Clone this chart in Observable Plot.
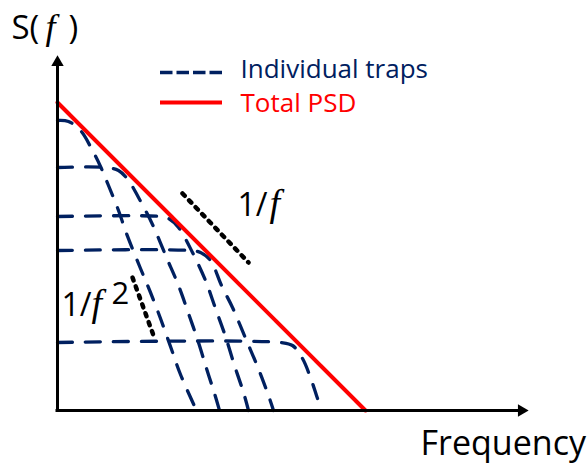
<!DOCTYPE html>
<html><head><meta charset="utf-8">
<script src="https://cdn.jsdelivr.net/npm/d3@7"></script>
<script src="https://cdn.jsdelivr.net/npm/@observablehq/plot@0.6"></script>
<style>body{margin:0;background:#fff} svg{display:block}</style>
</head><body><div id="chart"></div>
<script>
// Schematic units: x = log frequency (arb.), y = log S(f) (arb.)
const trap1 = [[0,290],[11,289],[23,280],[35,260],[43,244],[51,225],[61,200],[69,177],[83,142],[93,118],[103,92],[113,64],[123,36],[139,0]];
const trap2 = [[0,243],[48,243],[61,240],[71,230],[81,213],[95,186],[109,153],[121,125],[131,97],[141,68],[149,42],[157,17],[162,0]];
const trap3 = [[0,194],[103,194],[111,192],[121,183],[135,158],[148,130],[158,102],[168,74],[177,45],[186,18],[191,0]];
const trap4 = [[0,160],[133,160],[143,158],[153,150],[164,125],[175,103],[189,70],[200,44],[211,15],[216,0]];
const trap5 = [[0,68],[223,68],[235,65],[245,52],[254,30],[259,15],[264,0]];
const totalPSD = [[0,308],[308,0]];
const slopeOneOverF = [[125,217],[191,148]];
const slopeOneOverF2 = [[75,133],[96,75]];
const legendLabels = ["Individual traps", "Total PSD"];

const NAVY = "#002060", RED = "#ff0000";
const traps = [trap1, trap2, trap3, trap4, trap5];
const trapRows = traps.flatMap((t, i) => t.map(([x, y]) => ({trap: i + 1, x, y})));
const toRows = a => a.map(([x, y]) => ({x, y}));

const sans = "'Open Sans', sans-serif";
const serif = "'Liberation Serif', serif";
const txt = (s, x, y, o = {}) => Plot.text([s], {x: () => x, y: () => y, text: d => d, textAnchor: "start", lineAnchor: "bottom", fontFamily: sans, fontSize: 32, fill: "black", ...o});

const chart = Plot.plot({
  width: 587, height: 465,
  marginLeft: 57, marginRight: 59, marginTop: 55, marginBottom: 55,
  x: {domain: [0, 471], axis: null},
  y: {domain: [0, 355], axis: null},
  marks: [
    Plot.line(trapRows, {x: "x", y: "y", z: "trap", stroke: NAVY, strokeWidth: 3.3, strokeDasharray: "15,13", curve: "catmull-rom"}),
    Plot.line(toRows(totalPSD), {x: "x", y: "y", stroke: RED, strokeWidth: 4}),
    Plot.line(toRows(slopeOneOverF), {x: "x", y: "y", stroke: "black", strokeWidth: 4.5, strokeDasharray: "3.2,6.3"}),
    Plot.line(toRows(slopeOneOverF2), {x: "x", y: "y", stroke: "black", strokeWidth: 4.5, strokeDasharray: "3.2,6.3"}),
    // axes with arrowheads
    Plot.ruleX([0], {y1: -1.5, y2: 346, stroke: "black", strokeWidth: 3}),
    Plot.ruleY([0], {x1: -1.5, x2: 462, stroke: "black", strokeWidth: 3}),
    Plot.dot([0], {x: () => 0, y: () => 348, symbol: "triangle", r: 4.6, fill: "black", stroke: "none"}),
    Plot.dot([0], {x: () => 464, y: () => 0, symbol: "triangle", r: 4.6, fill: "black", stroke: "none", rotate: 90}),
    // legend
    Plot.ruleY([338], {x1: 103, x2: 165, stroke: NAVY, strokeWidth: 3.3, strokeDasharray: "12.5,4"}),
    Plot.ruleY([308], {x1: 103, x2: 165, stroke: RED, strokeWidth: 4}),
    txt(legendLabels[0], 183, 333, {fontSize: 26, fill: NAVY}),
    txt(legendLabels[1], 183, 299, {fontSize: 26, fill: RED}),
    // axis labels
    txt("S(", -46, 372, {fontSize: 33}),
    txt("f", -12, 372, {fontSize: 36, fontFamily: serif, fontStyle: "italic"}),
    txt(")", 11, 372, {fontSize: 33}),
    txt("Frequency", 363, -44, {fontSize: 34}),
    // slope annotations
    txt("1/", 180, 195, {fontSize: 32}),
    txt("f", 212, 195, {fontSize: 38, fontFamily: serif, fontStyle: "italic"}),
    txt("1/", 4, 95, {fontSize: 32}),
    txt("f", 34, 95, {fontSize: 38, fontFamily: serif, fontStyle: "italic"}),
    txt("2", 54, 107, {fontSize: 31})
  ]
});
document.getElementById("chart").append(chart);
</script>
</body></html>
